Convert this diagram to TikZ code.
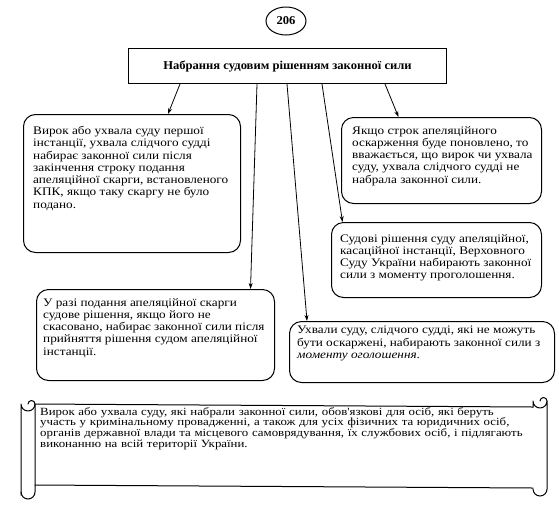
\documentclass[tikz,border=0pt]{standalone}
\usepackage{fontspec}
\setmainfont{Liberation Serif}
\newfontfamily\boxfont[FakeStretch=1.15]{Liberation Serif}
\newfontfamily\scrollfont[FakeStretch=1.17]{Liberation Serif}
\newfontfamily\titlefont[FakeStretch=1.05]{Liberation Serif}
\usetikzlibrary{arrows.meta,shapes.geometric}
\tikzset{
  box/.style={draw, line width=1pt, rounded corners=12pt, anchor=north west, inner sep=0pt},
  txt/.style={anchor=north west, inner sep=0pt, align=left, font=\boxfont\fontsize{11.5}{12.3}\selectfont},
  arr/.style={line width=0.8pt, -{Stealth[length=6pt,width=4pt]}},
  scrollline/.style={line width=1pt, line join=round, line cap=round}
}
\begin{document}
\begin{tikzpicture}[x=1pt, y=-1pt]
\useasboundingbox (0,0) rectangle (559,520);
% page number
\node[draw, ellipse, line width=1pt, minimum width=40pt, minimum height=28pt, inner sep=0pt,
      font=\titlefont\bfseries\fontsize{12}{14}\selectfont] (num) at (286,21) {206};
% title
\node[draw, line width=1pt, anchor=north west, minimum width=318pt, minimum height=35pt, inner sep=0pt,
      font=\titlefont\bfseries\fontsize{12}{14}\selectfont] (title) at (128,48) {Набрання судовим рішенням законної сили};
% boxes
\node[box, minimum width=217pt, minimum height=138pt] (b1) at (23,114) {};
\node[txt] (t1) at (33,126) {Вирок або ухвала суду першої\\інстанції, ухвала слідчого судді\\набирає законної сили після\\закінчення строку подання\\апеляційної скарги, встановленого\\КПК, якщо таку скаргу не було\\подано.};
\node[box, minimum width=200pt, minimum height=86pt] (b2) at (341,117) {};
\node[txt] (t2) at (352,126) {Якщо строк апеляційного\\оскарження буде поновлено, то\\вважається, що вирок чи ухвала\\суду, ухвала слідчого судді не\\набрала законної сили.};
\node[box, minimum width=210pt, minimum height=75pt] (b3) at (331,222) {};
\node[txt] (t3) at (340,234) {Судові рішення суду апеляційної,\\касаційної інстанції, Верховного\\Суду України набирають законної\\сили з моменту проголошення.};
\node[box, minimum width=238pt, minimum height=91pt] (b4) at (36,289) {};
\node[txt] (t4) at (43,298) {У разі подання апеляційної скарги\\судове рішення, якщо його не\\скасовано, набирає законної сили після\\прийняття рішення судом апеляційної\\інстанції.};
\node[box, minimum width=265pt, minimum height=61pt] (b5) at (289,321) {};
\node[txt] (t5) at (297,326) {Ухвали суду, слідчого судді, які не можуть\\бути оскаржені, набирають законної сили з\\\textit{моменту оголошення}.};
% connectors
\draw[arr] ([xshift=52pt]title.south west) -- ([xshift=36pt]b1.north);
\draw[arr] ([xshift=257pt]title.south west) -- ([xshift=-43pt]b2.north);
\draw[arr] ([xshift=129pt]title.south west) -- ([xshift=95pt]b4.north);
\draw[arr] ([xshift=159pt]title.south west) -- ([xshift=-115pt]b5.north);
\draw[arr] ([xshift=194pt]title.south west) -- ([xshift=-94pt]b3.north);
% scroll
\draw[scrollline] (35,404) -- (533,407);
\draw[scrollline] (35,485) -- (533,488);
% left roll
\draw[scrollline] (21,495) -- (21,404) arc[start angle=180, end angle=0, radius=7]
   arc[start angle=0, end angle=-180, radius=3.5];
\draw[scrollline] (35,404) -- (35,492) arc[start angle=0, end angle=180, radius=7];
% right roll
\draw[scrollline] (533,407) -- (533,401) arc[start angle=180, end angle=0, radius=7]
   -- (547,489) arc[start angle=0, end angle=180, radius=7];
\draw[scrollline] (547,401) arc[start angle=0, end angle=-180, radius=3.5];
\node[anchor=north west, inner sep=0pt, text width=484pt, font=\scrollfont\fontsize{11}{10.8}\selectfont] (st) at (40,407)
 {\makebox[484pt][s]{Вирок або ухвала суду, які набрали законної сили, обов'язкові для осіб, які беруть}\\
  \makebox[484pt][s]{участь у кримінальному провадженні, а також для усіх фізичних та юридичних осіб,}\\
  \makebox[484pt][s]{органів державної влади та місцевого самоврядування, їх службових осіб, і підлягають}\\
  виконанню на всій території України.};
\end{tikzpicture}
\end{document}
